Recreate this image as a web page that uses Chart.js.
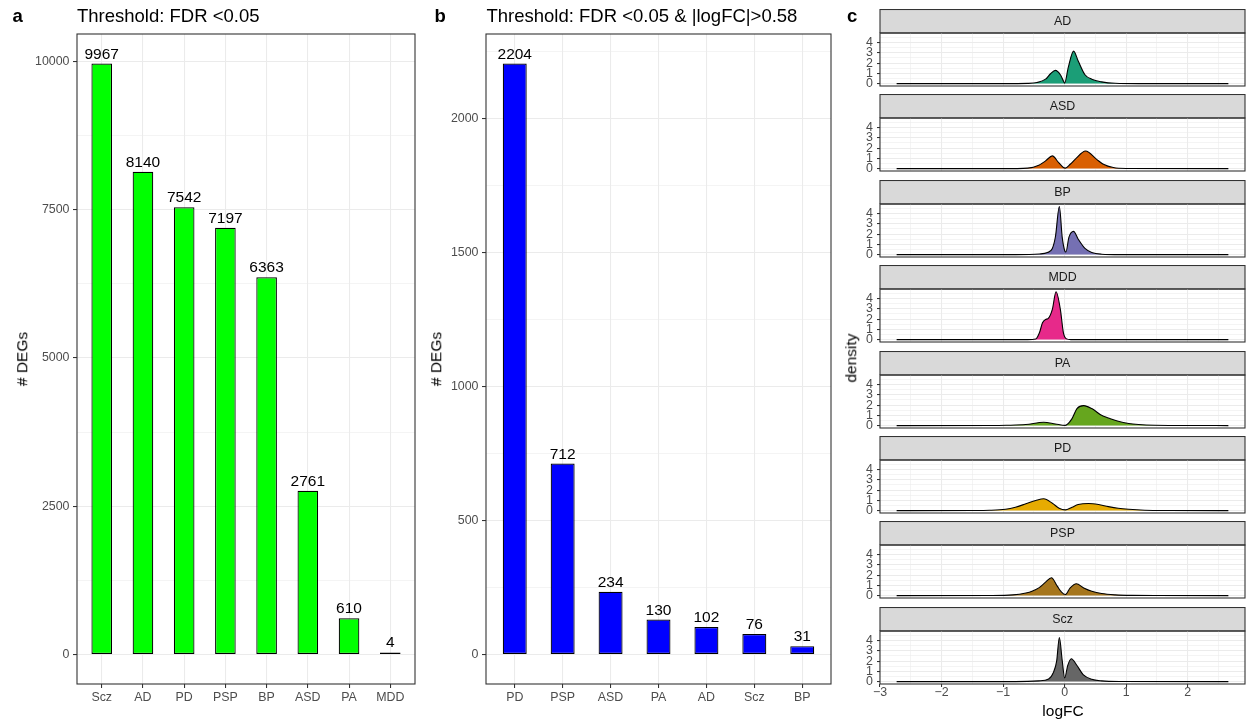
<!DOCTYPE html>
<html>
<head>
<meta charset="utf-8">
<script src="https://cdn.jsdelivr.net/npm/chart.js@4.4.0/dist/chart.umd.min.js"></script>
<style>
  body { margin: 0; background: #fff; width: 1246px; height: 725px; position: relative; overflow: hidden;
         font-family: "Liberation Sans", Arial, sans-serif; }
  canvas { position: absolute; }
  .lbl { position: absolute; white-space: nowrap; line-height: 1; color: #000; }
  .rot { transform: translate(-50%, -50%) rotate(-90deg); }
  .ctr { transform: translate(-50%, -50%); }
</style>
</head>
<body>
<canvas id="chartA" width="420" height="725" style="left:0;top:0"></canvas>
<canvas id="chartB" width="420" height="725" style="left:420px;top:0"></canvas>
<div id="facets"></div>

<div class="lbl" style="left:12.5px;top:7.3px;font-size:18.5px;font-weight:bold">a</div>
<div class="lbl" style="left:77px;top:7px;font-size:18.5px">Threshold: FDR &lt;0.05</div>
<div class="lbl rot" style="left:22px;top:359px;font-size:15.5px"># DEGs</div>

<div class="lbl" style="left:434.5px;top:7.3px;font-size:18.5px;font-weight:bold">b</div>
<div class="lbl" style="left:486.5px;top:7px;font-size:18.5px">Threshold: FDR &lt;0.05 &amp; |logFC|&gt;0.58</div>
<div class="lbl rot" style="left:436px;top:359px;font-size:15.5px"># DEGs</div>

<div class="lbl" style="left:847px;top:7.3px;font-size:18.5px;font-weight:bold">c</div>
<div class="lbl rot" style="left:851px;top:358px;font-size:15.5px">density</div>
<div class="lbl ctr" style="left:1063px;top:711px;font-size:15.5px">logFC</div>

<script>
// panel a: FDR < 0.05
const categoriesA = ["Scz", "AD", "PD", "PSP", "BP", "ASD", "PA", "MDD"];
const degsA = [9967, 8140, 7542, 7197, 6363, 2761, 610, 4];
const yTicksA = [0, 2500, 5000, 7500, 10000];
const yMinorA = [1250, 3750, 6250, 8750];

// panel b: FDR < 0.05 & |logFC| > 0.58
const categoriesB = ["PD", "PSP", "ASD", "PA", "AD", "Scz", "BP"];
const degsB = [2204, 712, 234, 130, 102, 76, 31];
const yTicksB = [0, 500, 1000, 1500, 2000];
const yMinorB = [250, 750, 1250, 1750, 2250];

// panel c: logFC densities
const facets = ["AD", "ASD", "BP", "MDD", "PA", "PD", "PSP", "Scz"];
const adLogFC  = [-2.73, -1.0, -0.6, -0.45, -0.31, -0.23, -0.15, -0.07, -0.02, 0.0, 0.06, 0.145, 0.22, 0.33, 0.44, 0.6, 0.82, 1.2, 2.66];
const adDens   = [0, 0, 0.02, 0.1, 0.43, 0.96, 1.29, 0.86, 0.25, 0.05, 1.6, 3.17, 2.2, 0.86, 0.43, 0.17, 0.03, 0, 0];
const asdLogFC = [-2.73, -1.0, -0.6, -0.42, -0.31, -0.2, -0.1, -0.02, 0.01, 0.09, 0.17, 0.34, 0.52, 0.63, 0.79, 1.0, 2.66];
const asdDens  = [0, 0, 0.05, 0.33, 0.75, 1.24, 0.6, 0.1, 0.05, 0.42, 0.9, 1.72, 0.9, 0.42, 0.1, 0.01, 0];
const bpLogFC  = [-2.73, -0.8, -0.41, -0.28, -0.2, -0.15, -0.086, -0.04, 0.0, 0.02, 0.07, 0.145, 0.22, 0.33, 0.44, 0.6, 0.9, 2.66];
const bpDens   = [0, 0, 0.06, 0.2, 0.6, 1.74, 4.69, 1.7, 0.4, 0.25, 1.7, 2.26, 1.5, 0.6, 0.2, 0.04, 0, 0];
const mddLogFC = [-2.73, -0.6, -0.47, -0.41, -0.36, -0.31, -0.27, -0.2, -0.14, -0.07, -0.02, 0.03, 0.1, 2.66];
const mddDens  = [0, 0, 0.05, 0.66, 1.64, 1.97, 2.05, 2.95, 4.66, 2.95, 0.66, 0.07, 0, 0];
const paLogFC  = [-2.73, -1.2, -0.95, -0.63, -0.34, -0.15, 0.01, 0.12, 0.2, 0.31, 0.44, 0.6, 0.71, 0.87, 1.04, 1.2, 1.47, 1.9, 2.66];
const paDens   = [0, 0.01, 0.03, 0.1, 0.33, 0.16, 0.02, 0.68, 1.66, 1.95, 1.66, 1.0, 0.75, 0.42, 0.2, 0.1, 0.03, 0.01, 0];
const pdLogFC  = [-2.73, -1.5, -1.22, -0.96, -0.8, -0.63, -0.47, -0.34, -0.2, -0.09, 0.01, 0.12, 0.22, 0.39, 0.55, 0.71, 0.87, 1.04, 1.3, 1.7, 2.66];
const pdDens   = [0, 0.01, 0.03, 0.13, 0.33, 0.66, 0.98, 1.15, 0.72, 0.23, 0.07, 0.33, 0.59, 0.69, 0.59, 0.39, 0.23, 0.13, 0.04, 0.01, 0];
const pspLogFC = [-2.73, -1.2, -0.84, -0.63, -0.53, -0.42, -0.31, -0.215, -0.12, -0.05, 0.01, 0.09, 0.19, 0.31, 0.44, 0.6, 0.82, 1.09, 1.5, 2.66];
const pspDens  = [0, 0.01, 0.07, 0.26, 0.43, 0.75, 1.31, 1.74, 0.92, 0.33, 0.1, 0.75, 1.15, 0.75, 0.43, 0.2, 0.07, 0.02, 0.01, 0];
const sczLogFC = [-2.73, -0.8, -0.42, -0.26, -0.18, -0.13, -0.086, -0.04, 0.0, 0.05, 0.108, 0.2, 0.3, 0.44, 0.6, 0.9, 2.66];
const sczDens  = [0, 0, 0.07, 0.26, 0.92, 2.0, 4.3, 2.07, 0.36, 1.57, 2.23, 1.57, 0.69, 0.23, 0.07, 0.01, 0];
const xTicksC = [-3, -2, -1, 0, 1, 2];
const xMinorC = [-2.5, -1.5, -0.5, 0.5, 1.5, 2.5];
const yTicksC = [0, 1, 2, 3, 4];
const yMinorC = [0.5, 1.5, 2.5, 3.5, 4.5];

const facetX = [adLogFC, asdLogFC, bpLogFC, mddLogFC, paLogFC, pdLogFC, pspLogFC, sczLogFC];
const facetY = [adDens, asdDens, bpDens, mddDens, paDens, pdDens, pspDens, sczDens];
const facetColors = ["#1b9e77", "#d95f02", "#7570b3", "#e7298a", "#66a61e", "#e6ab02", "#a6761d", "#666666"];

Chart.defaults.font.family = '"Liberation Sans", Arial, sans-serif';
Chart.defaults.animation = false;

const GRID = "#ebebeb";
const tickFont = { size: 12.4 };
const tickGray = "#4d4d4d";

// keep the plot area where we put it: no extra room for overhanging labels
const noPad = s => { s.paddingTop = 0; s.paddingBottom = 0; s.paddingLeft = 0; s.paddingRight = 0; };

// panel border drawn over the data, like theme_bw
const frame = {
  id: "frame",
  afterDatasetsDraw(chart) {
    const a = chart.chartArea, ctx = chart.ctx;
    ctx.save();
    ctx.strokeStyle = "#333333";
    ctx.lineWidth = 1.1;
    ctx.strokeRect(a.left, a.top, a.right - a.left, a.bottom - a.top);
    ctx.restore();
  }
};

// numbers above the bars
const barLabels = {
  id: "barLabels",
  afterDatasetsDraw(chart) {
    const ctx = chart.ctx;
    const meta = chart.getDatasetMeta(0);
    const vals = chart.data.datasets[0].data;
    ctx.save();
    ctx.fillStyle = "#000";
    ctx.font = '15.5px "Liberation Sans", Arial, sans-serif';
    ctx.textAlign = "center";
    ctx.textBaseline = "alphabetic";
    meta.data.forEach((bar, i) => {
      ctx.fillText(String(vals[i].y), bar.x, bar.y - 5);
    });
    ctx.restore();
  }
};

function barChart(id, cats, vals, majors, minors, color, ymin, ymax, yWidth, padRight) {
  const allY = majors.concat(minors);
  return new Chart(document.getElementById(id), {
    type: "bar",
    data: {
      datasets: [{
        data: cats.map((c, i) => ({ x: i + 1, y: vals[i] })),
        backgroundColor: color,
        borderColor: "#000",
        borderWidth: 1.2,
        borderSkipped: false,
        minBarLength: 2,
        barPercentage: 0.5,
        categoryPercentage: 1.0
      }]
    },
    options: {
      responsive: false,
      layout: { padding: { top: 34, right: padRight, bottom: 0, left: 0 } },
      plugins: { legend: { display: false }, tooltip: { enabled: false } },
      scales: {
        x: {
          type: "linear",
          min: 0.4,
          max: cats.length + 0.6,
          offset: false,
          afterBuildTicks: s => { s.ticks = cats.map((c, i) => ({ value: i + 1 })); },
          afterFit: s => { s.height = 41; noPad(s); },
          border: { display: false },
          grid: { offset: false, color: GRID, lineWidth: 1.07, tickColor: "#333", tickLength: 4, tickWidth: 1.07 },
          ticks: { autoSkip: false, maxRotation: 0, padding: 2, font: tickFont, color: tickGray,
                   callback: v => cats[Math.round(v) - 1] }
        },
        y: {
          min: ymin,
          max: ymax,
          afterBuildTicks: s => { s.ticks = allY.slice().sort((p, q) => p - q).map(v => ({ value: v })); },
          afterFit: s => { s.width = yWidth; noPad(s); },
          border: { display: false },
          grid: {
            color: GRID,
            lineWidth: c => majors.includes(c.tick.value) ? 1.07 : 0.55,
            tickColor: c => majors.includes(c.tick.value) ? "#333" : "rgba(0,0,0,0)",
            tickLength: 4,
            tickWidth: 1.07
          },
          ticks: { autoSkip: false, padding: 3.5, font: tickFont, color: tickGray,
                   callback: v => majors.includes(v) ? String(v) : "" }
        }
      }
    },
    plugins: [frame, barLabels]
  });
}

barChart("chartA", categoriesA, degsA, yTicksA, yMinorA, "#00ff00", -498.35, 10465.35, 77, 5);
barChart("chartB", categoriesB, degsB, yTicksB, yMinorB, "#0000ff", -110.2, 2314.2, 66, 9);

// facet strip (grey header with the group name)
const strip = {
  id: "strip",
  beforeDraw(chart, args, opts) {
    const a = chart.chartArea, ctx = chart.ctx;
    ctx.save();
    ctx.fillStyle = "#d9d9d9";
    ctx.fillRect(a.left, 0.5, a.right - a.left, a.top - 0.5);
    ctx.strokeStyle = "#333333";
    ctx.lineWidth = 1.1;
    ctx.strokeRect(a.left, 0.5, a.right - a.left, a.top - 0.5);
    ctx.fillStyle = "#1a1a1a";
    ctx.font = '12.4px "Liberation Sans", Arial, sans-serif';
    ctx.textAlign = "center";
    ctx.textBaseline = "middle";
    ctx.fillText(opts.text, (a.left + a.right) / 2, a.top / 2 + 0.5);
    ctx.restore();
  }
};

const stripTops = [9, 94, 180, 265, 351, 436, 521, 607];
const holder = document.getElementById("facets");
const allXC = xTicksC.concat(xMinorC).sort((p, q) => p - q);
const allYC = yTicksC.concat(yMinorC).sort((p, q) => p - q);
const minus = v => (v < 0 ? "\u2212" + Math.abs(v) : String(v));

facets.forEach((name, k) => {
  const last = k === facets.length - 1;
  const cv = document.createElement("canvas");
  cv.width = 406;
  // panel is 53 px tall; the canvas also covers the gap below so the "0" label is not cut
  cv.height = last ? 725 - stripTops[k] : stripTops[k + 1] - stripTops[k];
  const gap = last ? 0 : cv.height - 77;
  cv.style.left = "840px";
  cv.style.top = stripTops[k] + "px";
  holder.appendChild(cv);

  new Chart(cv, {
    type: "line",
    data: {
      datasets: [{
        data: facetX[k].map((x, i) => ({ x: x, y: facetY[k][i] })),
        borderColor: "#000",
        borderWidth: 1.1,
        backgroundColor: facetColors[k],
        fill: "origin",
        pointRadius: 0,
        cubicInterpolationMode: "monotone"
      }]
    },
    options: {
      responsive: false,
      layout: { padding: { top: 24, right: 1, bottom: gap, left: 0 } },
      plugins: { legend: { display: false }, tooltip: { enabled: false }, strip: { text: name } },
      scales: {
        x: {
          type: "linear",
          min: -3.0,
          max: 2.93,
          afterBuildTicks: s => { s.ticks = allXC.map(v => ({ value: v })); },
          afterFit: s => { s.height = last ? 41 : 0; noPad(s); },
          border: { display: false },
          grid: {
            color: GRID,
            lineWidth: c => xTicksC.includes(c.tick.value) ? 1.07 : 0.55,
            drawTicks: last,
            tickColor: c => xTicksC.includes(c.tick.value) ? "#333" : "rgba(0,0,0,0)",
            tickLength: 3,
            tickWidth: 1.07
          },
          ticks: { display: last, autoSkip: false, maxRotation: 0, padding: -2, font: tickFont, color: tickGray,
                   callback: v => xTicksC.includes(v) ? minus(v) : "" }
        },
        y: {
          min: -0.235,
          max: 4.935,
          afterBuildTicks: s => { s.ticks = allYC.map(v => ({ value: v })); },
          afterFit: s => { s.width = 40; noPad(s); },
          border: { display: false },
          grid: {
            color: GRID,
            lineWidth: c => yTicksC.includes(c.tick.value) ? 1.07 : 0.55,
            tickColor: c => yTicksC.includes(c.tick.value) ? "#333" : "rgba(0,0,0,0)",
            tickLength: 3,
            tickWidth: 1.07
          },
          ticks: { autoSkip: false, padding: 4, font: tickFont, color: tickGray,
                   callback: v => yTicksC.includes(v) ? String(v) : "" }
        }
      }
    },
    plugins: [strip, frame]
  });
});
</script>
</body>
</html>
